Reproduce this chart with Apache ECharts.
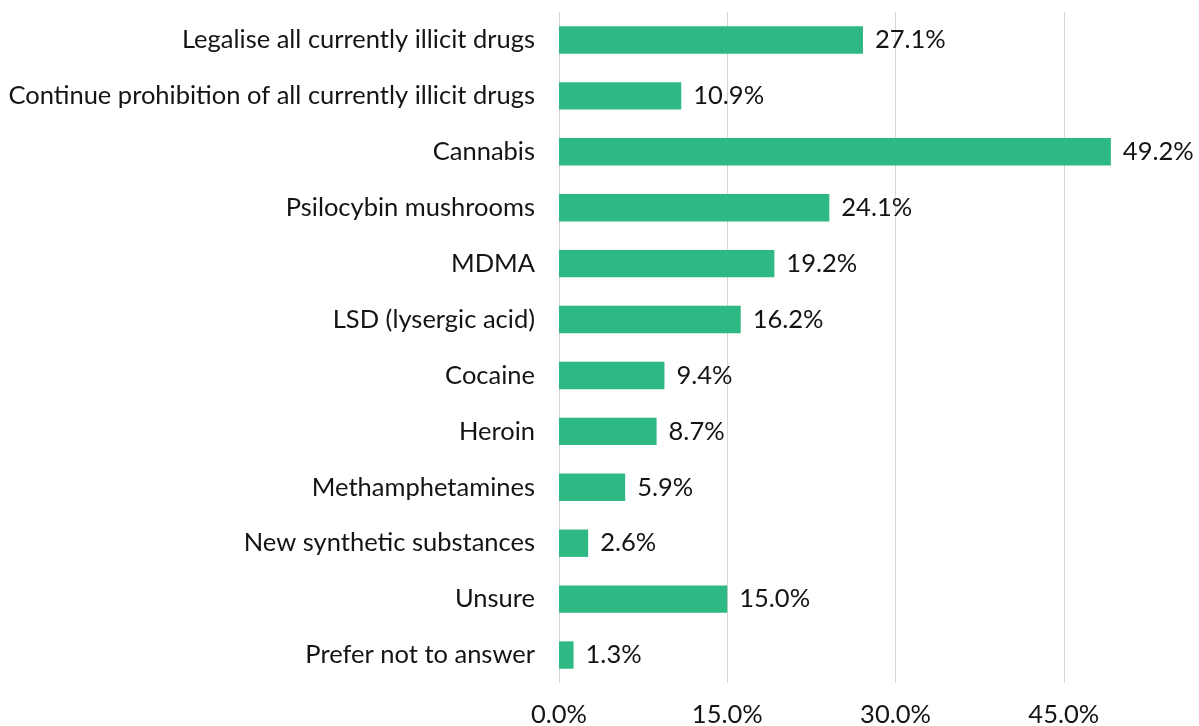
<!DOCTYPE html>
<html><head><meta charset="utf-8">
<script src="https://cdn.jsdelivr.net/npm/echarts@6/dist/echarts.min.js"></script>
<style>html,body{margin:0;padding:0;background:#fff}#c{width:1199px;height:726px}</style>
</head><body><div id="c"></div>
<script>
const categories = ["Legalise all currently illicit drugs","Continue prohibition of all currently illicit drugs","Cannabis","Psilocybin mushrooms","MDMA","LSD (lysergic acid)","Cocaine","Heroin","Methamphetamines","New synthetic substances","Unsure","Prefer not to answer"];
const values = [27.1,10.9,49.2,24.1,19.2,16.2,9.4,8.7,5.9,2.6,15.0,1.3];
const tickInterval = 15;

const chart = echarts.init(document.getElementById('c'), null, {renderer:'canvas'});
chart.setOption({
  animation:false,
  grid:{left:559, width:673, top:12, bottom:43, containLabel:false, outerBoundsMode:'none'},
  xAxis:{type:'value', min:0, max:60, interval:tickInterval,
    axisLine:{show:false}, axisTick:{show:false},
    splitLine:{lineStyle:{color:'#d6d6d6', width:1}},
    axisLabel:{formatter:v=>v.toFixed(1)+'%', fontFamily:'Lato', fontSize:25.5, color:'#141414', margin:19, showMaxLabel:false}
  },
  yAxis:{type:'category', data:categories, inverse:true,
    axisLine:{show:false}, axisTick:{show:false},
    axisLabel:{fontFamily:'Lato', fontSize:25.5, color:'#141414', margin:24}
  },
  series:[{type:'bar', data:values, barCategoryGap:'51%',
    itemStyle:{color:'#2eb984'},
    label:{show:true, position:'right', distance:12, formatter:p=>p.value.toFixed(1)+'%', fontFamily:'Lato', fontSize:25.5, color:'#141414'}
  }]
});
</script></body></html>
